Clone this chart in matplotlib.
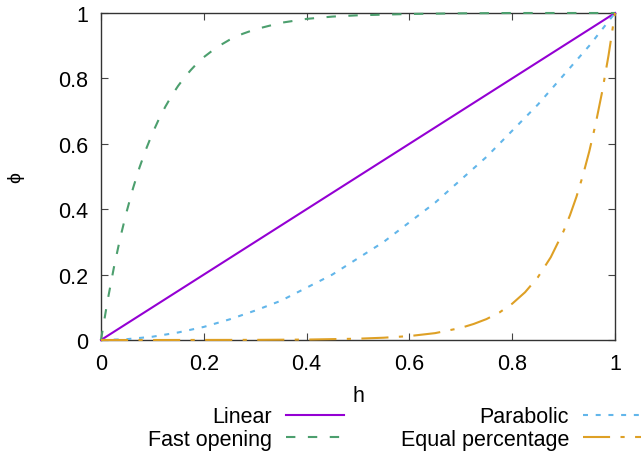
import matplotlib
matplotlib.use('Agg')
import matplotlib.pyplot as plt

plt.rcParams['font.family'] = ['Liberation Sans', 'DejaVu Sans']
plt.rcParams['font.size'] = 15.5

# curves
h_lin = [0.0, 1.0]
phi_lin = [0.0, 1.0]

h_fast = [0, 0.0125, 0.025, 0.0375, 0.05, 0.0625, 0.075, 0.0875, 0.1, 0.1125,
          0.125, 0.1375, 0.15, 0.1625, 0.175, 0.1875, 0.2, 0.225, 0.25, 0.275,
          0.3, 0.35, 0.4, 0.45, 0.5, 0.6, 0.7, 0.8, 0.9, 1.0]
phi_fast = [0, 0.118, 0.221, 0.313, 0.393, 0.465, 0.528, 0.583, 0.632, 0.675,
            0.713, 0.747, 0.777, 0.803, 0.826, 0.847, 0.865, 0.895, 0.918, 0.936,
            0.95, 0.97, 0.982, 0.989, 0.993, 0.997, 0.999, 1.0, 1.0, 1.0]

h_par = [0, 0.05, 0.1, 0.15, 0.2, 0.25, 0.3, 0.35, 0.4, 0.45, 0.5,
         0.55, 0.6, 0.65, 0.7, 0.75, 0.8, 0.85, 0.9, 0.95, 1.0]
phi_par = [0, 0.0025, 0.01, 0.023, 0.04, 0.063, 0.09, 0.12, 0.16, 0.2, 0.25,
           0.3, 0.36, 0.42, 0.49, 0.56, 0.64, 0.72, 0.81, 0.9, 1.0]

h_eq = [0, 0.1, 0.2, 0.3, 0.4, 0.5, 0.55, 0.6, 0.65, 0.7, 0.725, 0.75, 0.775,
        0.8, 0.825, 0.85, 0.875, 0.9, 0.9125, 0.925, 0.9375, 0.95, 0.9625,
        0.975, 0.9875, 1.0]
phi_eq = [0, 0.0, 0.0002, 0.0004, 0.0013, 0.004, 0.007, 0.012, 0.021, 0.037,
          0.049, 0.064, 0.084, 0.111, 0.146, 0.192, 0.253, 0.333, 0.382, 0.438,
          0.503, 0.577, 0.662, 0.759, 0.871, 1.0]

ticks = [0, 0.2, 0.4, 0.6, 0.8, 1]
tick_labels = ['0', '0.2', '0.4', '0.6', '0.8', '1']

fig = plt.figure(figsize=(6.43, 4.56), dpi=100)
ax = fig.add_axes([101/643, 1-341/456, 514/643, 327/456])

lw = 1.5
l1, = ax.plot(h_lin, phi_lin, color='#9400d3', lw=lw, clip_on=False, zorder=3,
              label='Linear')
l2, = ax.plot(h_fast, phi_fast, color='#4c9f6e', lw=lw, clip_on=False, zorder=3,
              ls=(0, (4.5, 6)), label='Fast opening')
l3, = ax.plot(h_par, phi_par, color='#62b6ea', lw=lw, clip_on=False, zorder=3,
              ls=(0, (2.4, 3.7)), label='Parabolic')
l4, = ax.plot(h_eq, phi_eq, color='#dea025', lw=lw, clip_on=False, zorder=3,
              ls=(0, (13, 5, 2, 5)), label='Equal percentage')

ax.set_xlim(0, 1)
ax.set_ylim(0, 1)
ax.set_xticks(ticks)
ax.set_xticklabels(tick_labels)
ax.set_yticks(ticks)
ax.set_yticklabels(tick_labels)
ax.tick_params(direction='in', length=5, width=0.8, color='#444444',
               top=True, right=True, pad=9)
for s in ax.spines.values():
    s.set_linewidth(1.0)
    s.set_color('#333333')

ax.set_xlabel('h')
ax.xaxis.set_label_coords(0.5, -0.138)
fig.text(16/643, 1-178/456, '\u03d5', rotation=90, ha='center', va='center',
         fontsize=14)

kw = dict(frameon=False, markerfirst=False, handlelength=2.7,
          handletextpad=0.65, borderpad=0, borderaxespad=0,
          labelspacing=0.05, loc='center right')
leg1 = fig.legend(handles=[l1, l2], bbox_to_anchor=(344/643, 1-429/456), **kw)
leg2 = fig.legend(handles=[l3, l4], bbox_to_anchor=(641/643, 1-429/456), **kw)

fig.savefig('out.png', dpi=100)
